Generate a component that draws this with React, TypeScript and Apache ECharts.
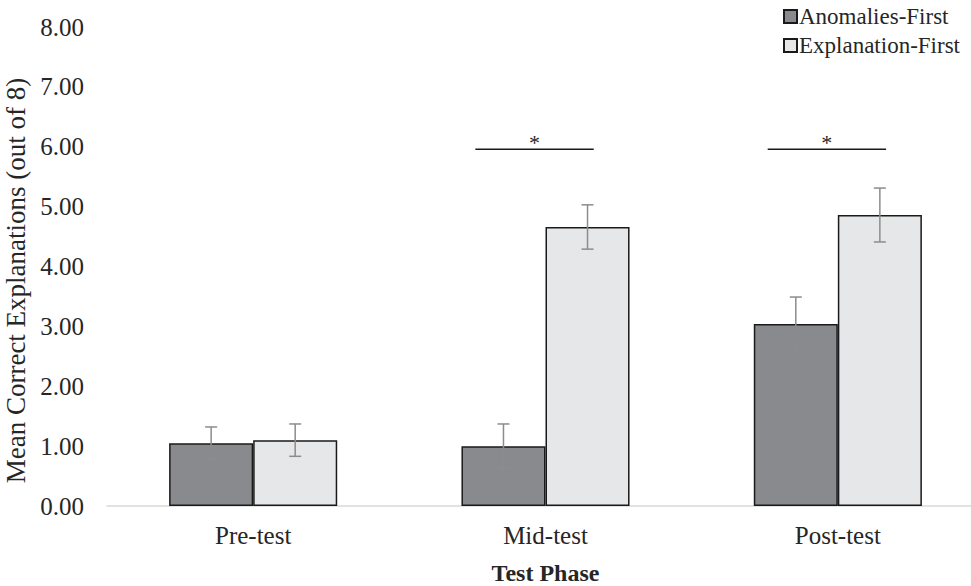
import React, { useEffect, useRef } from "react";
import * as echarts from "echarts";

const categories = ["Pre-test", "Mid-test", "Post-test"];
const seriesNames = ["Anomalies-First", "Explanation-First"];
const anomaliesFirst = [1.05, 1.0, 3.04];
const explanationFirst = [1.1, 4.66, 4.86];
const anomaliesErr = [0.27, 0.37, 0.45];
const explanationErr = [0.27, 0.37, 0.45];
const sigCategories = ["Mid-test", "Post-test"];
const sigLevel = 5.96;
const yTicks = [0, 1, 2, 3, 4, 5, 6, 7, 8];

const FONT = "'Liberation Serif', 'Times New Roman', serif";
const GAP_FRAC = 0.425;

export default function App() {
  const ref = useRef<HTMLDivElement>(null);
  useEffect(() => {
    if (!ref.current) return;
    const chart = echarts.init(ref.current, null, { renderer: "svg" });

    const errData = (vals: number[], errs: number[], side: number) =>
      vals.map((v, i) => [i, v, errs[i], side]);

    const errRender = (params: any, api: any) => {
      const xi = api.value(0);
      const v = api.value(1);
      const e = api.value(2);
      const side = api.value(3);
      const catW = api.size([1, 0])[0];
      const barW = (catW * (1 - GAP_FRAC)) / 2;
      const top = api.coord([xi, v + e]);
      const bot = api.coord([xi, v - e]);
      const x = top[0] + (side * barW) / 2;
      const cap = 6;
      const style = { stroke: "#8c8c8c", lineWidth: 1.5, fill: null };
      return {
        type: "group",
        children: [
          { type: "line", shape: { x1: x, y1: top[1], x2: x, y2: bot[1] }, style },
          { type: "line", shape: { x1: x - cap, y1: top[1], x2: x + cap, y2: top[1] }, style },
          { type: "line", shape: { x1: x - cap, y1: bot[1], x2: x + cap, y2: bot[1] }, style },
        ],
      };
    };

    const sigRender = (params: any, api: any) => {
      const xi = api.value(0);
      const v = api.value(1);
      const c = api.coord([xi, v]);
      const catW = api.size([1, 0])[0];
      const x1 = c[0] - catW * 0.24;
      const x2 = c[0] + catW * 0.165;
      return {
        type: "group",
        children: [
          {
            type: "line",
            shape: { x1, y1: c[1], x2, y2: c[1] },
            style: { stroke: "#1a1a1a", lineWidth: 1.5 },
          },
          {
            type: "text",
            style: {
              text: "*",
              x: (x1 + x2) / 2,
              y: c[1] + 4,
              align: "center",
              verticalAlign: "bottom",
              font: `22px ${FONT}`,
              fill: "#262626",
            },
          },
        ],
      };
    };

    chart.setOption({
      animation: false,
      backgroundColor: "#ffffff",
      textStyle: { fontFamily: FONT },
      legend: {
        data: seriesNames,
        orient: "vertical",
        left: 778,
        top: 0,
        icon: "rect",
        itemWidth: 13,
        itemHeight: 13,
        itemGap: 6,
        textStyle: { fontFamily: FONT, fontSize: 23, color: "#262626", padding: [0, 0, 0, -3] },
      },
      grid: {
        left: 107,
        top: 27,
        width: 877,
        height: 479,
        containLabel: false,
        outerBoundsMode: "none",
      },
      xAxis: {
        type: "category",
        data: categories,
        axisLine: { lineStyle: { color: "#d9d9d9", width: 1.5 } },
        axisTick: { show: false },
        axisLabel: { fontFamily: FONT, fontSize: 25, color: "#262626", margin: 17 },
        name: "Test Phase",
        nameLocation: "middle",
        nameGap: 55,
        nameTextStyle: { fontFamily: FONT, fontSize: 24, fontWeight: "bold", color: "#262626" },
      },
      yAxis: {
        type: "value",
        min: yTicks[0],
        max: yTicks[yTicks.length - 1],
        interval: 1,
        axisLine: { show: false },
        axisTick: { show: false },
        splitLine: { show: false },
        axisLabel: {
          fontFamily: FONT,
          fontSize: 25,
          color: "#262626",
          margin: 23,
          formatter: (v: number) => v.toFixed(2),
        },
        name: "Mean Correct Explanations (out of 8)",
        nameLocation: "middle",
        nameGap: 76,
        nameTextStyle: {
          fontFamily: FONT,
          fontSize: 27,
          color: "#262626",
          padding: [0, 28, 0, 0],
        },
      },
      series: [
        {
          name: seriesNames[0],
          type: "bar",
          data: anomaliesFirst,
          barGap: "0%",
          barCategoryGap: `${GAP_FRAC * 100}%`,
          itemStyle: { color: "#898a8e", borderColor: "#1a1a1a", borderWidth: 1.5 },
        },
        {
          name: seriesNames[1],
          type: "bar",
          data: explanationFirst,
          barGap: "0%",
          barCategoryGap: `${GAP_FRAC * 100}%`,
          itemStyle: { color: "#e6e7e9", borderColor: "#1a1a1a", borderWidth: 1.5 },
        },
        {
          type: "custom",
          renderItem: errRender,
          data: errData(anomaliesFirst, anomaliesErr, -1),
          z: 10,
        },
        {
          type: "custom",
          renderItem: errRender,
          data: errData(explanationFirst, explanationErr, 1),
          z: 10,
        },
        {
          type: "custom",
          renderItem: sigRender,
          data: sigCategories.map((c) => [categories.indexOf(c), sigLevel]),
          z: 10,
        },
      ],
    });
    return () => chart.dispose();
  }, []);
  return (
    <div
      ref={ref}
      style={{ position: "fixed", left: 0, top: 0, width: 971, height: 586 }}
    />
  );
}
